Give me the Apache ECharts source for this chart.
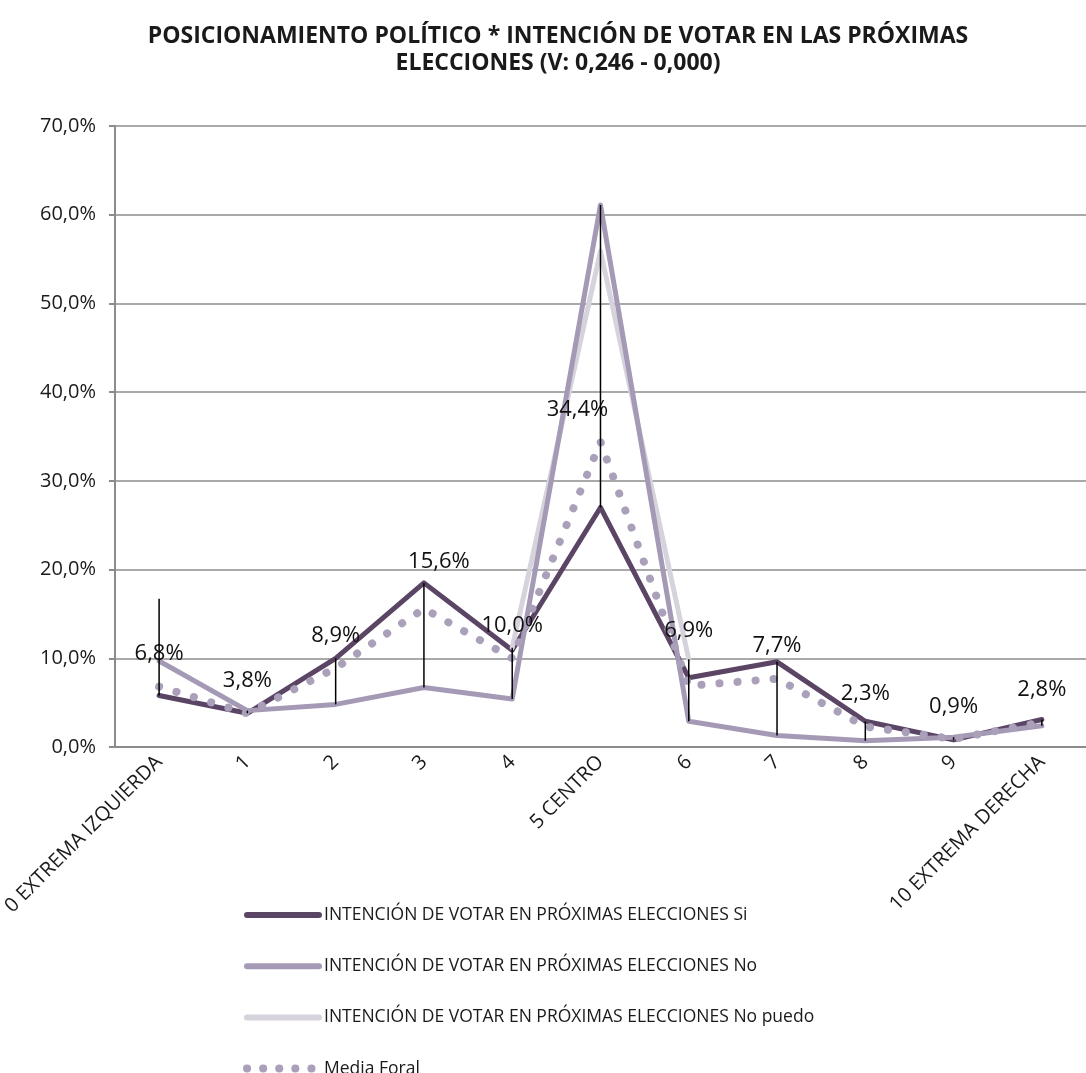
<!DOCTYPE html>
<html>
<head>
<meta charset="utf-8">
<script src="https://cdn.jsdelivr.net/npm/echarts@6/dist/echarts.min.js"></script>
<style>
  html, body { margin: 0; padding: 0; background: #ffffff; }
  #chart { width: 1086px; height: 1073px; }
</style>
</head>
<body>
<div id="chart"></div>
<script>
// Political self-placement by intention to vote (percent of each group)
const categories = ['0 EXTREMA IZQUIERDA', '1', '2', '3', '4', '5 CENTRO', '6', '7', '8', '9', '10 EXTREMA DERECHA'];
const seriesNames = [
  'INTENCIÓN DE VOTAR EN PRÓXIMAS ELECCIONES Si',
  'INTENCIÓN DE VOTAR EN PRÓXIMAS ELECCIONES No',
  'INTENCIÓN DE VOTAR EN PRÓXIMAS ELECCIONES No puedo',
  'Media Foral'
];
const votaSi      = [5.8, 3.8, 10.0, 18.5, 10.9, 27.0, 7.8, 9.6, 2.9, 0.8, 3.1];
const votaNo      = [9.7, 4.1, 4.8, 6.7, 5.4, 61.1, 2.9, 1.3, 0.7, 1.1, 2.4];
const votaNoPuedo = [16.7, null, null, null, 11.2, 55.9, 9.9, null, null, null, null];
const mediaForal  = [6.8, 3.8, 8.9, 15.6, 10.0, 34.4, 6.9, 7.7, 2.3, 0.9, 2.8];
const yTicks = [0, 10, 20, 30, 40, 50, 60, 70];

const FONT = '"Open Sans"';
const colors = ['#5b4565', '#a59ab5', '#d7d3dd', '#aaa0b9'];
const fmtPct = v => v.toFixed(1).replace('.', ',') + '%';

// a few value labels sit slightly off their default place to avoid the lines
const labelNudge = { 3: [15, -14], 5: [-23, 0], 6: [0, -23] };

// High-low range per category across the three voting groups
const ranges = categories.map((c, i) => {
  const vals = [votaSi[i], votaNo[i], votaNoPuedo[i]].filter(v => v != null);
  return [i, Math.max(...vals), Math.min(...vals)];
});

const solidLegend = (name, i) => ({
  name,
  itemStyle: { opacity: 0 },
  lineStyle: { width: 6, cap: 'round', color: colors[i] }
});

const chart = echarts.init(document.getElementById('chart'), null, { renderer: 'canvas' });

chart.setOption({
  backgroundColor: '#ffffff',
  animation: false,
  title: {
    text: 'POSICIONAMIENTO POLÍTICO * INTENCIÓN DE VOTAR EN LAS PRÓXIMAS\nELECCIONES (V: 0,246 - 0,000)',
    left: 558,
    top: 23,
    padding: 0,
    textAlign: 'center',
    textStyle: { fontFamily: FONT, fontWeight: 'bold', fontSize: 23, color: '#1a1a1a', lineHeight: 27 }
  },
  grid: { left: 112, right: -12, top: 126, bottom: 326, containLabel: false },
  legend: {
    orient: 'vertical',
    left: 243,
    top: 906,
    height: 220,
    padding: 0,
    itemWidth: 72,
    itemHeight: 16,
    itemGap: 33.2,
    data: [
      solidLegend(seriesNames[0], 0),
      solidLegend(seriesNames[1], 1),
      solidLegend(seriesNames[2], 2),
      {
        name: seriesNames[3],
        itemStyle: { opacity: 0 },
        lineStyle: { width: 8, type: [0.1, 16], cap: 'round', color: colors[3] }
      }
    ],
    textStyle: { fontFamily: FONT, fontSize: 17.5, color: '#1a1a1a' }
  },
  xAxis: {
    type: 'category',
    data: categories,
    boundaryGap: true,
    axisLine: { lineStyle: { color: '#8c8c8c', width: 2 } },
    axisTick: { show: false },
    axisLabel: { rotate: 45, margin: 12, fontFamily: FONT, fontSize: 20, color: '#1a1a1a', interval: 0 },
    splitLine: { show: false }
  },
  yAxis: {
    type: 'value',
    min: yTicks[0],
    max: yTicks[yTicks.length - 1],
    interval: 10,
    axisLine: { show: true, lineStyle: { color: '#8c8c8c', width: 2 } },
    axisTick: { show: true, length: 6, lineStyle: { color: '#8c8c8c', width: 2 } },
    axisLabel: { margin: 19, fontFamily: FONT, fontSize: 20, color: '#1a1a1a', formatter: v => fmtPct(v) },
    splitLine: { lineStyle: { color: '#8c8c8c', width: 1.5 } }
  },
  series: [
    {
      name: seriesNames[0], type: 'line', data: votaSi, symbol: 'none',
      lineStyle: { color: colors[0], width: 5, cap: 'round', join: 'round' },
      itemStyle: { color: colors[0] }, z: 2
    },
    {
      name: seriesNames[1], type: 'line', data: votaNo, symbol: 'none',
      lineStyle: { color: colors[1], width: 5, cap: 'round', join: 'round' },
      itemStyle: { color: colors[1] }, z: 3
    },
    {
      name: seriesNames[2], type: 'line', data: votaNoPuedo, symbol: 'none', connectNulls: false,
      lineStyle: { color: colors[2], width: 5, cap: 'round', join: 'round' },
      itemStyle: { color: colors[2] }, z: 2
    },
    {
      name: seriesNames[3], type: 'line', data: mediaForal,
      symbol: 'circle', symbolSize: 1, showSymbol: true,
      lineStyle: { color: colors[3], width: 8, type: [0.1, 18], cap: 'round' },
      itemStyle: { color: 'rgba(0,0,0,0)' }, z: 4,
      label: {
        show: true, position: 'top', distance: 21,
        fontFamily: FONT, fontSize: 22, color: '#111111',
        formatter: p => fmtPct(p.value)
      },
      labelLayout: p => {
        const n = labelNudge[p.dataIndex];
        return n ? { dx: n[0], dy: n[1] } : {};
      }
    },
    {
      // vertical high-low lines
      type: 'custom',
      z: 6,
      silent: true,
      data: ranges,
      encode: { x: 0, y: [1, 2] },
      renderItem: (params, api) => {
        const top = api.coord([api.value(0), api.value(1)]);
        const bot = api.coord([api.value(0), api.value(2)]);
        return {
          type: 'line',
          shape: { x1: top[0], y1: top[1], x2: bot[0], y2: bot[1] },
          style: { stroke: '#000000', lineWidth: 1.5 }
        };
      }
    }
  ]
});
</script>
</body>
</html>
